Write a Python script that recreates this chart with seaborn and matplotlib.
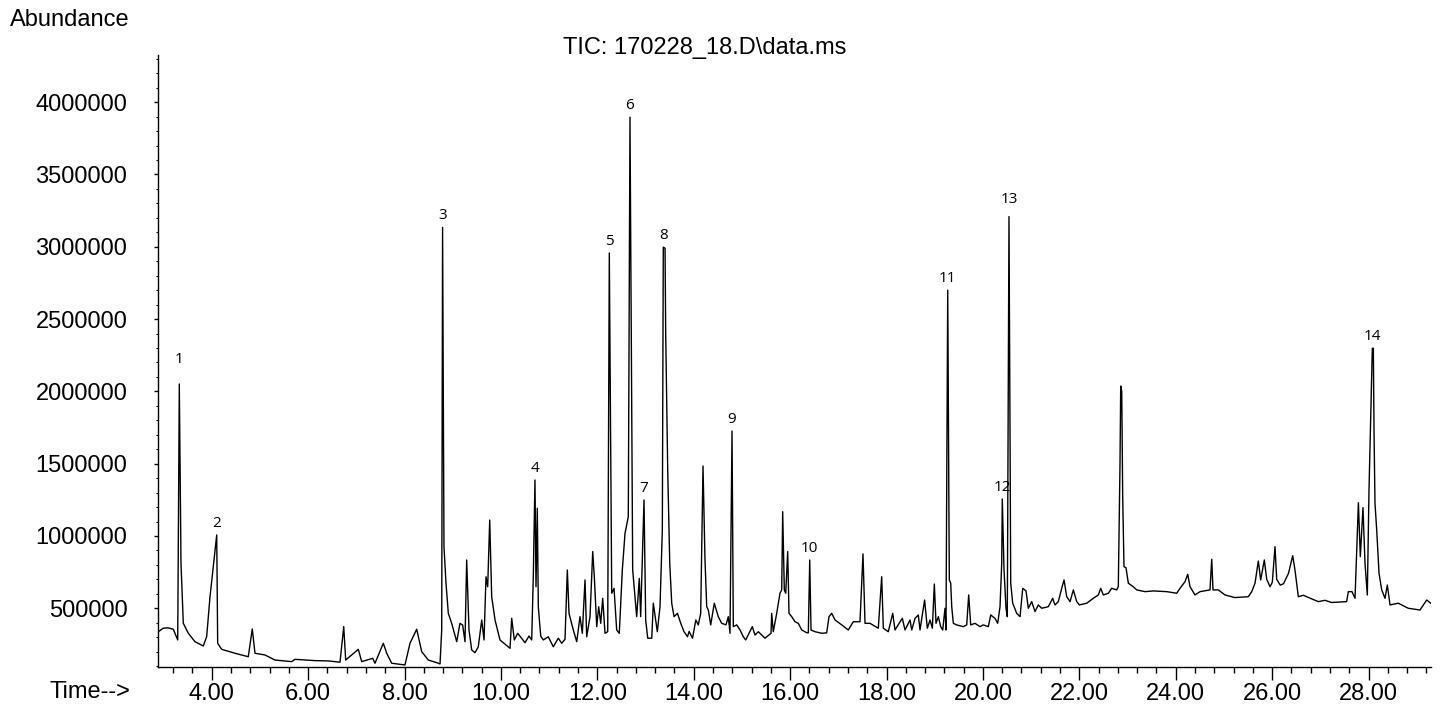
import matplotlib
matplotlib.use("Agg")
import matplotlib.pyplot as plt
from matplotlib.ticker import MultipleLocator, FormatStrFormatter
import seaborn as sns
import pandas as pd

# ---- data (time in min, abundance) ----
time_min = [
    2.892, 2.996, 3.087, 3.203, 3.295, 3.328, 3.363, 3.411, 3.515, 3.653, 3.826, 3.896, 3.965,
    4.054, 4.104, 4.124, 4.207, 4.483, 4.759, 4.842, 4.898, 5.106, 5.313, 5.660, 5.728, 6.143,
    6.419, 6.662, 6.739, 6.780, 7.042, 7.112, 7.340, 7.388, 7.560, 7.631, 7.734, 8.010, 8.114,
    8.253, 8.357, 8.494, 8.668, 8.737, 8.772, 8.790, 8.819, 8.861, 8.909, 8.979, 9.083, 9.151,
    9.207, 9.255, 9.290, 9.338, 9.394, 9.463, 9.531, 9.602, 9.650, 9.691, 9.726, 9.768, 9.809,
    9.878, 9.981, 10.189, 10.224, 10.278, 10.349, 10.500, 10.583, 10.639, 10.672, 10.707, 10.728,
    10.755, 10.776, 10.826, 10.880, 10.983, 11.087, 11.191, 11.261, 11.330, 11.378, 11.413,
    11.502, 11.573, 11.641, 11.689, 11.745, 11.780, 11.849, 11.905, 11.938, 11.988, 12.029,
    12.071, 12.112, 12.160, 12.216, 12.249, 12.299, 12.347, 12.402, 12.456, 12.519, 12.575,
    12.643, 12.678, 12.734, 12.817, 12.871, 12.900, 12.969, 13.004, 13.046, 13.129, 13.162,
    13.245, 13.301, 13.349, 13.369, 13.405, 13.419, 13.461, 13.503, 13.544, 13.592, 13.663,
    13.731, 13.800, 13.871, 13.904, 13.975, 14.044, 14.095, 14.145, 14.193, 14.234, 14.270,
    14.303, 14.353, 14.427, 14.510, 14.581, 14.670, 14.718, 14.753, 14.795, 14.822, 14.892,
    14.961, 15.029, 15.079, 15.216, 15.272, 15.340, 15.479, 15.604, 15.618, 15.651, 15.722,
    15.790, 15.826, 15.846, 15.880, 15.909, 15.950, 15.977, 16.033, 16.102, 16.170, 16.241,
    16.344, 16.378, 16.407, 16.434, 16.517, 16.656, 16.759, 16.807, 16.863, 16.932, 17.071,
    17.207, 17.311, 17.450, 17.512, 17.554, 17.657, 17.830, 17.900, 17.934, 18.037, 18.129,
    18.176, 18.328, 18.384, 18.488, 18.523, 18.591, 18.660, 18.695, 18.790, 18.847, 18.903,
    18.951, 18.992, 19.027, 19.075, 19.124, 19.166, 19.214, 19.234, 19.270, 19.303, 19.332,
    19.353, 19.386, 19.456, 19.593, 19.664, 19.705, 19.747, 19.836, 19.940, 20.008, 20.112,
    20.162, 20.251, 20.307, 20.355, 20.390, 20.402, 20.438, 20.479, 20.506, 20.541, 20.577,
    20.618, 20.701, 20.770, 20.826, 20.894, 20.942, 21.012, 21.081, 21.149, 21.220, 21.357,
    21.448, 21.494, 21.564, 21.635, 21.683, 21.739, 21.808, 21.876, 21.946, 22.000, 22.154,
    22.290, 22.394, 22.444, 22.498, 22.602, 22.672, 22.776, 22.809, 22.844, 22.859, 22.880,
    22.900, 22.927, 22.969, 23.017, 23.120, 23.191, 23.363, 23.535, 23.813, 24.020, 24.089,
    24.193, 24.249, 24.296, 24.400, 24.504, 24.711, 24.747, 24.774, 24.884, 25.023, 25.230,
    25.506, 25.577, 25.645, 25.714, 25.763, 25.838, 25.888, 25.957, 26.004, 26.060, 26.095,
    26.170, 26.237, 26.340, 26.427, 26.476, 26.544, 26.648, 26.751, 26.958, 27.097, 27.235,
    27.546, 27.581, 27.657, 27.720, 27.790, 27.830, 27.885, 27.927, 27.975, 28.010, 28.052,
    28.079, 28.100, 28.114, 28.134, 28.170, 28.218, 28.274, 28.342, 28.390, 28.446, 28.618,
    28.825, 29.068, 29.207, 29.310,
]

abundance = [
    338000, 362000, 365000, 355000, 281000, 2051000, 811000, 396000, 327000, 269000, 239000, 304000, 580000,
    857000, 1007000, 258000, 216000, 189000, 165000, 357000, 189000, 177000, 142000, 131000, 147000, 138000,
    136000, 127000, 373000, 142000, 216000, 131000, 154000, 120000, 258000, 189000, 120000, 108000, 258000,
    355000, 200000, 142000, 124000, 115000, 350000, 3134000, 926000, 673000, 465000, 396000, 269000, 396000,
    384000, 269000, 834000, 350000, 212000, 193000, 234000, 419000, 281000, 718000, 649000, 1110000, 580000,
    419000, 281000, 223000, 431000, 281000, 327000, 262000, 308000, 281000, 718000, 1387000, 649000,
    1192000, 511000, 308000, 281000, 303000, 234000, 293000, 258000, 286000, 765000, 465000,
    350000, 269000, 442000, 327000, 696000, 303000, 442000, 892000, 718000, 373000, 511000,
    396000, 569000, 327000, 338000, 2957000, 604000, 638000, 350000, 327000, 765000, 1019000,
    1133000, 3896000, 765000, 442000, 707000, 442000, 1249000, 419000, 293000, 293000, 535000,
    338000, 511000, 1041000, 2997000, 2990000, 2400000, 1450000, 811000, 535000, 442000, 465000,
    396000, 338000, 303000, 340000, 293000, 419000, 385000, 465000, 1484000, 834000, 511000,
    488000, 385000, 535000, 442000, 396000, 385000, 442000, 327000, 1726000, 373000, 385000,
    350000, 303000, 281000, 373000, 315000, 338000, 293000, 327000, 465000, 338000, 465000,
    604000, 627000, 1168000, 627000, 604000, 892000, 465000, 442000, 407000, 396000, 350000,
    331000, 330000, 834000, 350000, 338000, 327000, 330000, 442000, 465000, 419000, 385000,
    350000, 407000, 407000, 876000, 396000, 396000, 362000, 718000, 362000, 338000, 465000,
    350000, 431000, 350000, 419000, 350000, 430000, 454000, 350000, 557000, 362000, 419000,
    362000, 668000, 396000, 442000, 373000, 350000, 500000, 350000, 2700000, 696000, 673000,
    511000, 396000, 385000, 373000, 385000, 592000, 385000, 396000, 373000, 385000, 373000,
    454000, 430000, 396000, 511000, 811000, 1256000, 765000, 500000, 442000, 3209000, 673000,
    535000, 465000, 442000, 638000, 620000, 500000, 546000, 477000, 523000, 500000, 511000,
    569000, 523000, 546000, 638000, 696000, 580000, 546000, 627000, 546000, 523000, 535000,
    569000, 592000, 638000, 592000, 604000, 638000, 627000, 650000, 1500000, 2037000, 2000000,
    1272000, 788000, 780000, 673000, 649000, 627000, 615000, 620000, 615000, 604000, 638000,
    684000, 735000, 650000, 592000, 615000, 627000, 839000, 627000, 627000, 592000, 574000,
    580000, 615000, 673000, 827000, 696000, 834000, 700000, 649000, 680000, 926000, 700000,
    660000, 670000, 742000, 864000, 760000, 580000, 590000, 575000, 546000, 555000, 540000,
    546000, 615000, 615000, 569000, 1230000, 857000, 1196000, 811000, 592000, 1318000, 1906000,
    2298000, 2298000, 1733000, 1226000, 1041000, 742000, 627000, 569000, 661000, 523000, 535000,
    500000, 488000, 557000, 530000,
]

peak_labels = ["1", "2", "3", "4", "5", "6", "7", "8", "9", "10", "11", "12", "13", "14"]
peak_times = [3.328, 4.104, 8.790, 10.707, 12.249, 12.678, 12.969, 13.38, 14.795, 16.407,
              19.270, 20.402, 20.541, 28.09]
peak_heights = [2051000, 1007000, 3134000, 1387000, 2957000, 3896000, 1249000, 2997000,
                1726000, 834000, 2700000, 1256000, 3209000, 2298000]

title_text = "TIC: 170228_18.D\\data.ms"
y_label = "Abundance"
x_label = "Time-->"

# ---- styling ----
sns.set_theme(style="ticks")
plt.rcParams["font.family"] = ["Liberation Sans", "DejaVu Sans"]
plt.rcParams["text.color"] = "black"
plt.rcParams["axes.labelcolor"] = "black"
plt.rcParams["xtick.color"] = "black"
plt.rcParams["ytick.color"] = "black"

fig = plt.figure(figsize=(14.4, 7.08), dpi=100)
ax = fig.add_axes([158 / 1440, 41.3 / 708, (1430.7 - 158) / 1440, (666.7 - 55) / 708])

df = pd.DataFrame({"time": time_min, "abundance": abundance})
sns.lineplot(data=df, x="time", y="abundance", ax=ax, color="black", linewidth=1.0,
             sort=False, estimator=None)

ax.set_xlim(2.886, 29.29)
ax.set_ylim(96000, 4326000)

for side in ("top", "right"):
    ax.spines[side].set_visible(False)
for side in ("left", "bottom"):
    ax.spines[side].set_color("black")
    ax.spines[side].set_linewidth(1.0)

ax.xaxis.set_major_locator(MultipleLocator(2))
ax.xaxis.set_minor_locator(MultipleLocator(0.4))
ax.xaxis.set_major_formatter(FormatStrFormatter("%.2f"))
ax.yaxis.set_major_locator(MultipleLocator(500000))
ax.yaxis.set_minor_locator(MultipleLocator(100000))
ax.yaxis.set_major_formatter(FormatStrFormatter("%d"))

ax.tick_params(axis="x", which="major", length=9.5, width=1.0, color="black",
               labelcolor="black", labelsize=17, pad=2, direction="out")
ax.tick_params(axis="x", which="minor", length=4.5, width=1.0, color="black", direction="out")
ax.tick_params(axis="y", which="major", length=3, width=1.0, color="black",
               labelcolor="black", labelsize=17, pad=19, direction="out")
ax.tick_params(axis="y", which="minor", length=1.5, width=0.8, color="black", direction="out")

ax.set_xlabel("")
ax.set_ylabel("")
ax.grid(False)

label_offsets = {"1": 12, "13": 7}
for lab, t, h in zip(peak_labels, peak_times, peak_heights):
    ax.annotate(lab, xy=(t, h), xytext=(0, label_offsets.get(lab, 3)),
                textcoords="offset points", ha="center", va="bottom",
                fontsize=11, family=["Open Sans", "DejaVu Sans"], color="black")

fig.text(10 / 1440, 1 - 20.5 / 708, y_label, ha="left", va="center", fontsize=17, color="black")
fig.text(705 / 1440, 1 - 48 / 708, title_text, ha="center", va="center", fontsize=17, color="black")
fig.text(130 / 1440, 1 - 692 / 708, x_label, ha="right", va="center", fontsize=17, color="black")

fig.savefig("out.png", dpi=100, facecolor="white")
